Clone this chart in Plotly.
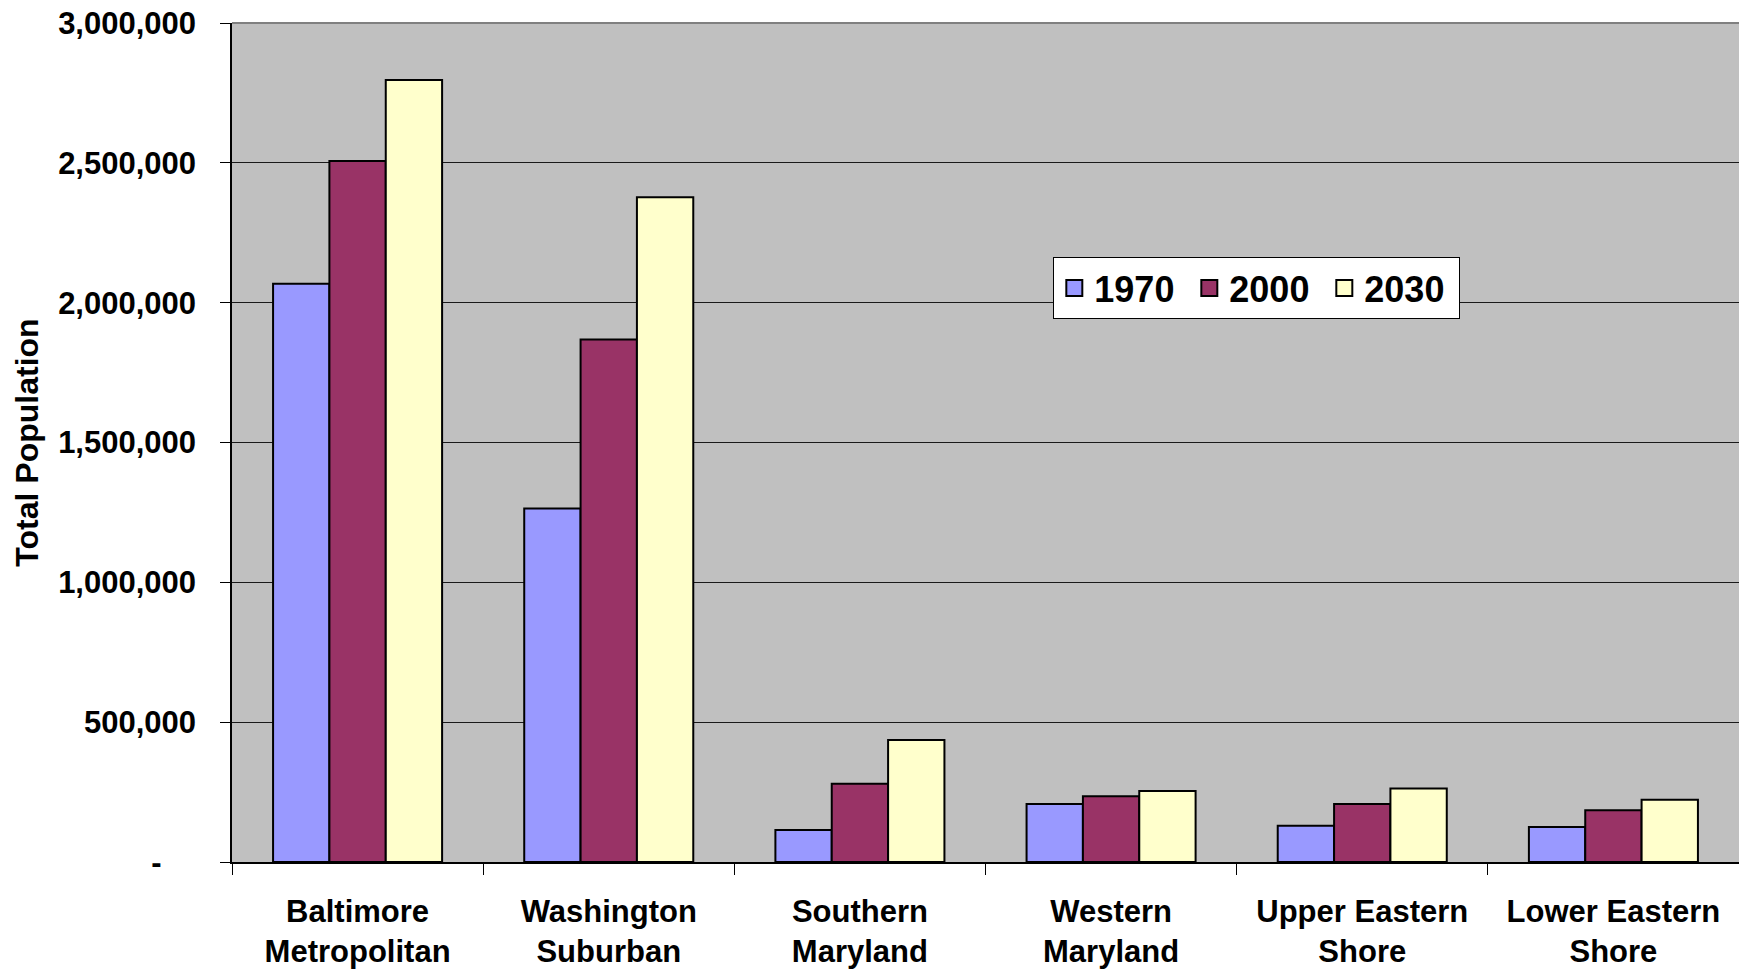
import plotly.graph_objects as go

regions = ["Baltimore<br>Metropolitan", "Washington<br>Suburban", "Southern<br>Maryland",
           "Western<br>Maryland", "Upper Eastern<br>Shore", "Lower Eastern<br>Shore"]
years = ["1970", "2000", "2030"]
pop_1970 = [2068000, 1264000, 114000, 207000, 130000, 125000]
pop_2000 = [2507000, 1868000, 280000, 235000, 207000, 185000]
pop_2030 = [2796000, 2377000, 436000, 254000, 263000, 223000]
colors = ["#9999FF", "#993366", "#FFFFCC"]

y_ticks = [0, 500000, 1000000, 1500000, 2000000, 2500000, 3000000]
y_tick_text = ["-\u00a0\u00a0\u00a0\u00a0", "500,000", "1,000,000", "1,500,000",
               "2,000,000", "2,500,000", "3,000,000"]

FONT = "Arial, Liberation Sans, sans-serif"

fig = go.Figure()
for name, vals, col in zip(years, [pop_1970, pop_2000, pop_2030], colors):
    fig.add_trace(go.Bar(
        x=regions, y=vals, name=name, showlegend=False,
        marker=dict(color=col, line=dict(color="black", width=2)),
    ))
    # bigger legend squares than the bar default
    fig.add_trace(go.Scatter(
        x=[None], y=[None], mode="markers", name=name,
        marker=dict(symbol="square", size=16, color=col, line=dict(color="black", width=2)),
    ))

fig.update_layout(
    width=1739, height=969,
    margin=dict(l=232, r=0, t=23, b=107, autoexpand=False),
    paper_bgcolor="white",
    plot_bgcolor="#C0C0C0",
    barmode="group",
    bargap=0.327,
    bargroupgap=0,
    font=dict(family=FONT, color="black", size=30, weight="bold"),
    legend=dict(
        orientation="h", x=0.545, y=0.721, xanchor="left", yanchor="top",
        bgcolor="white", bordercolor="black", borderwidth=1,
        font=dict(size=36, family=FONT, weight="bold"),
        entrywidth=90, entrywidthmode="pixels",
        itemsizing="trace",
    ),
)

fig.update_xaxes(
    automargin=False,
    showline=True, linecolor="black", linewidth=1.5,
    ticks="outside", ticklen=11, tickcolor="black", tickwidth=1,
    tickson="boundaries",
    tickfont=dict(size=31, family=FONT, weight="bold"),
    ticklabelstandoff=21,
    showgrid=False,
)
fig.update_yaxes(
    automargin=False,
    range=[0, 3000000],
    tickvals=y_ticks, ticktext=y_tick_text,
    showline=True, linecolor="black", linewidth=1.5,
    ticks="outside", ticklen=10, tickcolor="black", tickwidth=1,
    ticklabelstandoff=18,
    showgrid=True, gridcolor="#1a1a1a", gridwidth=1,
    zeroline=False,
    tickfont=dict(size=31, family=FONT, weight="bold"),
    title=dict(text="Total Population", standoff=10,
               font=dict(size=32, family=FONT, weight="bold")),
)

# gray frame line along the top of the plot area
fig.add_shape(type="line", xref="paper", yref="paper", x0=0, x1=1, y0=1, y1=1,
              line=dict(color="#808080", width=2))

# drop the default page margin so the figure sits at the window's corner
fig.write_html("out.html", config={"displayModeBar": False},
               post_script="document.body.style.margin='0';")
